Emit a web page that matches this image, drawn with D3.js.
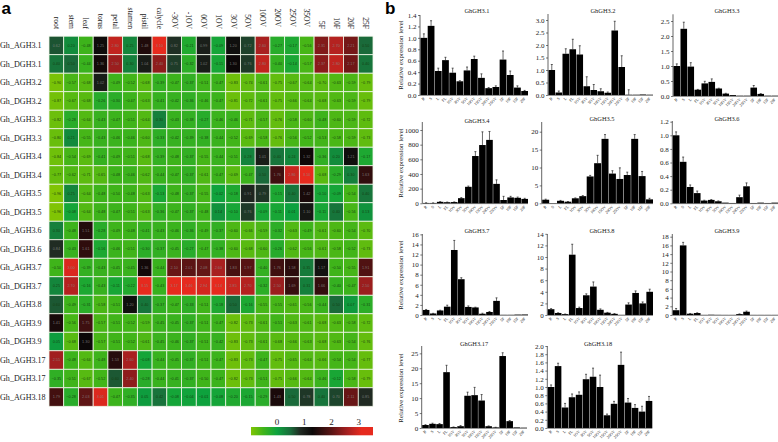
<!DOCTYPE html>
<html><head><meta charset="utf-8">
<script src="https://cdn.jsdelivr.net/npm/d3@7"></script>
<style>html,body{margin:0;padding:0;background:#fff}svg{display:block}text{font-family:"Liberation Serif",serif}</style>
</head><body><svg id="c" width="778" height="442"></svg>
<script>
const tissues=["root","stem","leaf","torus","petal","stamen","pistil","calycle","-3OV","-1OV","0OV","1OV","3OV","5OV","10OV","20OV","25OV","35OV","5F","10F","20F","25F"];
const genes=["Gh_AGH3.1","Gh_DGH3.1","Gh_AGH3.2","Gh_DGH3.2","Gh_AGH3.3","Gh_DGH3.3","Gh_AGH3.4","Gh_DGH3.4","Gh_AGH3.5","Gh_DGH3.5","Gh_AGH3.6","Gh_DGH3.6","Gh_AGH3.7","Gh_DGH3.7","Gh_AGH3.8","Gh_AGH3.9","Gh_DGH3.9","Gh_AGH3.17","Gh_DGH3.17","Gh_AGH3.18"];
const heat=[
[0.62,0.20,-0.48,1.25,2.80,0.25,1.48,3.10,0.82,-0.21,0.99,-0.09,1.20,0.72,2.60,-0.27,-0.17,-0.56,2.31,2.70,2.21,0.50],
[0.40,0.50,-0.44,1.36,2.50,0.30,1.04,2.40,0.75,-0.32,1.02,-0.11,1.30,0.76,2.80,-0.40,-0.14,-0.57,2.37,2.80,2.17,0.40],
[-0.90,-0.57,-0.68,1.02,-0.49,-0.52,-0.68,-0.39,-0.47,-0.37,-0.51,-0.47,-0.83,-0.74,-0.61,-0.75,-0.67,-0.64,-0.70,-0.63,-0.59,-0.79],
[-0.87,-0.67,-0.68,-0.26,-0.30,-0.47,-0.63,-0.41,-0.42,-0.36,-0.46,-0.47,-0.81,-0.72,-0.61,-0.75,-0.66,-0.64,-0.68,-0.63,-0.59,-0.79],
[-0.82,-0.28,-0.64,-0.43,-0.47,-0.51,-0.64,0.30,-0.43,-0.38,-0.27,-0.46,-0.46,-0.71,-0.57,-0.76,-0.58,-0.60,-0.48,-0.60,-0.59,-0.72],
[-0.80,0.21,-0.55,-0.43,-0.46,-0.46,-0.60,-0.33,-0.42,-0.39,-0.38,-0.44,-0.52,-0.69,-0.58,-0.76,-0.56,-0.52,-0.53,-0.58,-0.59,-0.73],
[-0.84,-0.54,-0.69,-0.41,-0.49,-0.51,-0.68,-0.39,-0.48,-0.37,-0.55,-0.44,-0.51,0.28,1.01,0.40,0.24,1.32,-0.36,0.20,1.21,-0.17],
[-0.77,-0.62,-0.71,-0.65,-0.48,-0.46,-0.62,-0.44,-0.47,-0.37,-0.61,-0.47,-0.69,-0.47,0.50,1.76,2.86,3.10,-0.68,-0.29,0.30,1.63],
[-0.96,0.25,-0.64,-0.48,-0.50,-0.48,-0.63,-0.13,-0.48,-0.37,-0.55,-0.02,-0.18,0.91,0.79,-0.15,0.40,1.42,-0.10,-0.09,-0.54,0.40],
[-0.96,-0.08,-0.64,-0.48,-0.47,-0.51,-0.63,-0.36,-0.47,-0.37,-0.48,0.14,-0.10,0.76,-0.09,-0.11,0.01,1.10,-0.11,0.40,-0.56,0.13],
[0.30,-0.48,1.51,-0.28,-0.49,-0.48,-0.41,-0.43,-0.46,-0.36,-0.49,-0.37,-0.60,-0.66,-0.59,-0.32,-0.63,-0.49,-0.61,-0.60,-0.54,-0.70],
[0.84,-0.43,1.61,-0.16,-0.46,-0.51,-0.30,-0.37,-0.45,-0.27,-0.47,-0.38,-0.60,-0.68,-0.60,-0.26,-0.62,-0.56,-0.61,-0.58,-0.52,-0.73],
[-0.50,3.00,-0.39,-0.43,-0.45,-0.45,1.36,-0.44,2.10,2.01,2.08,2.60,1.83,1.97,-0.40,1.76,1.58,0.35,1.17,-0.50,-0.55,1.91],
[0.25,2.70,-0.16,-0.43,-0.11,-0.22,3.15,-0.43,3.17,3.46,2.94,3.14,2.85,2.70,-0.32,2.50,1.69,0.31,1.66,-0.40,-0.47,2.50],
[0.60,-0.49,-0.31,-0.58,-0.51,1.20,0.40,-0.37,-0.47,-0.33,-0.51,-0.18,0.50,-0.16,-0.55,-0.55,-0.61,-0.56,-0.44,0.50,0.07,-0.31],
[1.41,-0.56,1.75,-0.57,-0.51,-0.52,-0.59,-0.45,-0.45,-0.37,-0.51,-0.47,-0.82,-0.73,-0.61,-0.51,-0.63,-0.61,-0.68,-0.63,-0.58,-0.72],
[0.05,-0.68,1.30,-0.57,-0.51,-0.52,-0.61,-0.45,-0.46,-0.37,-0.51,-0.42,-0.83,-0.73,-0.61,-0.68,-0.66,-0.63,-0.68,-0.63,-0.54,-0.76],
[2.55,-0.48,-0.64,-0.48,1.53,2.60,-0.08,-0.44,-0.45,-0.37,-0.51,-0.47,-0.83,-0.73,-0.47,-0.75,-0.65,-0.64,-0.66,-0.54,-0.54,-0.77],
[-0.35,-0.51,-0.67,-0.52,0.60,2.40,-0.28,-0.44,-0.41,-0.37,-0.50,-0.47,-0.82,-0.73,-0.51,-0.75,-0.66,-0.64,-0.46,-0.12,-0.58,-0.79],
[1.79,-0.28,2.03,3.01,-0.47,-0.35,0.05,0.42,-0.08,-0.04,-0.01,-0.08,-0.20,-0.15,-0.29,1.43,0.50,0.78,0.40,0.70,2.11,0.85]
];
const legendTicks=[0,1,2,3];
const colorStops=[-0.96,-0.5,0,0.5,0.85,1.3,2,2.6,3.1,3.52];
const colorValues=["#80c404","#3fb41a","#0da23e","#1a6a3a","#202a22","#0c0808","#5a1414","#a82020","#e62a1e","#e62a1e"];

const stages=["R","S","L","FL","1OV","3OV","5OV","10OV","15OV","20OV","25OV","5F","10F","15F","20F"];
const v31=[1.0,1.21,.42,.61,.39,.24,.43,.63,.30,.12,.14,.62,.35,.13,.07];
const e31=[.07,.09,.05,.05,.08,.01,.06,.05,.07,.01,.02,.15,.07,.03,.01];
const v32=[1.0,.1,1.65,1.83,1.62,.35,.2,.15,.09,2.58,1.12,.01,.01,.02,.01];
const e32=[.22,.06,.2,.4,.35,.38,.22,.1,.03,.37,.45,.2,0,0,0];
const v33=[1.0,2.24,.98,.21,.42,.47,.25,.08,.03,.01,.01,.28,.07,.01,.01];
const e33=[.07,.22,.13,.01,.07,.1,.01,.01,0,0,0,.07,.01,0,0];
const v34=[5,5,20,15,17,70,225,645,795,865,265,45,80,75,60];
const e34=[2,1,3,2,2,8,10,60,180,115,55,50,15,10,8];
const v35=[1.0,.05,.7,.45,1.4,2.0,7.5,11.2,18,8.3,6.8,7.9,18,7.6,1.1];
const e35=[.15,0,.1,.05,.1,.15,.3,2.2,1.2,.8,3.1,.8,1.2,1.3,.3];
const v36=[1.0,.61,.24,.15,.04,.05,.03,.01,.005,.09,.25,.005,.01,.005,.01];
const e36=[.05,.07,.03,.03,.005,.005,.005,0,0,.03,.05,0,0,0,0];
const v37=[1.0,.3,.9,1.65,12.9,7.1,1.6,1.5,.25,.6,2.8,.03,.03,.08,.1];
const e37=[.1,.03,.05,.3,1.9,.3,.2,.05,.1,.1,.6,0,0,0,0];
const v38=[1.0,.35,.15,10.4,1.2,3.4,4.9,.9,.4,.2,.02,1.8,3.8,2.0,4.0];
const e38=[.1,.03,.02,1.8,.15,.25,.8,.15,.05,.05,0,.3,.35,.25,.45];
const v39=[1.1,16,.3,.45,.02,.06,.03,.02,.02,.2,.75,.02,.02,.02,.02];
const e39=[.4,.7,.05,.05,0,0,0,0,0,.05,.15,0,0,0,0];
const v317=[1.0,1.4,1.3,18.7,.3,.6,10.8,11,9.2,.6,.2,24.1,2.3,.2,.1];
const e317=[.1,.2,.2,2.3,.05,.2,1.2,2.6,2,.1,.05,1.1,.2,0,0];
const v318=[1.0,1.51,.5,.75,.81,1.19,1.25,1.0,.31,.59,1.54,.62,.49,.4,.66];
const e318=[.05,.07,.1,.08,.07,.12,.21,.29,.03,.06,.31,.1,.08,.13,.11];

const svg=d3.select("#c");
const color=d3.scaleLinear().domain(colorStops).range(colorValues).clamp(true);
const x=d3.scaleBand().domain(tissues).range([49,373]);
const y=d3.scaleBand().domain(genes).range([36.2,406.3]);
svg.append("text").text("a").attr("x",1.5).attr("y",14).style("font-family","Liberation Sans").style("font-weight","bold").style("font-size","17px").attr("fill","#000");
svg.append("text").text("b").attr("x",385).attr("y",14).style("font-family","Liberation Sans").style("font-weight","bold").style("font-size","17px").attr("fill","#000");
const hm=svg.append("g");
genes.forEach((g,r)=>{
  tissues.forEach((t,c)=>{
    const val=heat[r][c];
    hm.append("rect").attr("x",x(t)).attr("y",y(g)).attr("width",x.bandwidth()).attr("height",y.bandwidth())
      .attr("fill",color(val)).attr("stroke","#f0f6e8").attr("stroke-width",0.8);
    hm.append("text").attr("x",x(t)+x.bandwidth()/2).attr("y",y(g)+y.bandwidth()/2+1.2)
      .attr("text-anchor","middle").style("font-family","Liberation Sans").style("font-size","3.8px")
      .attr("fill",val>0.6?"#8a8a8a":"#143c10").attr("fill-opacity",val>0.6?0.8:0.95)
      .text(val<0?"\u2212"+Math.abs(val).toFixed(2):val.toFixed(2));
  });
});
genes.forEach(g=>svg.append("text").text(g).attr("x",0).attr("y",y(g)+y.bandwidth()/2+2.8).style("font-size","8.1px").attr("fill","#222"));
tissues.forEach(t=>svg.append("text").text(t)
  .attr("transform",`translate(${x(t)+x.bandwidth()/2-2.5},${t.endsWith("OV")&&t.length>3&&t[0]!="-"?27:29}) rotate(90)`)
  .attr("text-anchor","end").style("font-size","7.6px").attr("fill","#222"));
// legend
const lx=d3.scaleLinear().domain([0,3]).range([277,358.7]);
const defs=svg.append("defs");
const grad=defs.append("linearGradient").attr("id","lg");
colorStops.forEach((s,i)=>grad.append("stop").attr("offset",(lx(s)-251)/122).attr("stop-color",colorValues[i]));
svg.append("rect").attr("x",251).attr("y",427).attr("width",122).attr("height",8.3).attr("fill","url(#lg)");
legendTicks.forEach(t=>svg.append("text").text(t).attr("x",lx(t)).attr("y",424.5).attr("text-anchor","middle").style("font-size","9px").attr("fill","#222"));

function bar(title,vals,errs,o){
  const g=svg.append("g");
  const xs=d3.scaleBand().domain(stages).range([o.ax+0.5,o.ax+o.w]).paddingInner(0.06);
  const ys=d3.scaleLinear().domain([0,o.top]).range([o.y0,o.y0-o.px*o.top]);
  const axis=d3.axisLeft(ys).tickValues(o.ticks).tickFormat(d3.format(o.fmt)).tickSize(2).tickPadding(1.5);
  stages.forEach((s,i)=>{
    const cx=xs(s)+xs.bandwidth()/2;
    if(errs[i]>0){
      g.append("line").attr("x1",cx).attr("x2",cx).attr("y1",ys(vals[i])).attr("y2",ys(vals[i]+errs[i])).attr("stroke","#444").attr("stroke-width",.8);
      g.append("line").attr("x1",cx-1).attr("x2",cx+1).attr("y1",ys(vals[i]+errs[i])).attr("y2",ys(vals[i]+errs[i])).attr("stroke","#222").attr("stroke-width",.7);
    }
    g.append("rect").attr("x",xs(s)).attr("y",ys(vals[i])).attr("width",xs.bandwidth()).attr("height",o.y0-ys(vals[i])).attr("fill","#000");
    g.append("text").text(s).attr("transform",`translate(${cx+1.2},${o.y0+3.8}) rotate(-45)`).attr("text-anchor","end").style("font-size","4px").attr("fill","#111");
  });
  const a=g.append("g").attr("transform",`translate(${o.ax},0)`).call(axis);
  a.selectAll("text").style("font-size","7px").attr("fill","#222").style("font-family","Liberation Serif");
  a.selectAll("line").attr("stroke","#222").attr("stroke-width",.6);
  a.select(".domain").remove();
  g.append("line").attr("x1",o.ax).attr("x2",o.ax).attr("y1",o.y0).attr("y2",o.axTop).attr("stroke","#222").attr("stroke-width",.7);
  g.append("line").attr("x1",o.ax).attr("x2",o.ax+o.w).attr("y1",o.y0+.3).attr("y2",o.y0+.3).attr("stroke","#222").attr("stroke-width",.6);
  g.append("text").text(title).attr("x",o.tx).attr("y",o.ty).attr("text-anchor","middle").style("font-size","6.4px").attr("fill","#222");
  if(o.yl) g.append("text").text("Relative expression level").attr("transform",`translate(403,${o.yl}) rotate(-90)`).attr("text-anchor","middle").style("font-size","6.9px").attr("fill","#222");
}
const rng=(a,b,s)=>d3.range(a,b+s/2,s);
bar("GhGH3.1",v31,e31,{ax:420,w:108,y0:95,top:1.4,px:80/1.4,axTop:15,ticks:rng(0,1.4,.2),fmt:".1f",tx:477,ty:13,yl:55});
bar("GhGH3.2",v32,e32,{ax:548,w:105,y0:95,top:3.2,px:25,axTop:14,ticks:rng(0,3,.5),fmt:".1f",tx:603,ty:13});
bar("GhGH3.3",v33,e33,{ax:673,w:105,y0:96,top:2.7,px:30,axTop:14.3,ticks:rng(0,2.5,.5),fmt:".1f",tx:727,ty:13});
bar("GhGH3.4",v34,e34,{ax:422.3,w:105.7,y0:203.3,top:1100,px:73.3/1000,axTop:122,ticks:rng(0,1000,200),fmt:"d",tx:477,ty:123,yl:163});
bar("GhGH3.5",v35,e35,{ax:541.7,w:111.3,y0:203.3,top:22,px:3.58,axTop:122,ticks:rng(0,20,5),fmt:"d",tx:602,ty:121});
bar("GhGH3.6",v36,e36,{ax:672.3,w:105.7,y0:203.3,top:1.2,px:68,axTop:121,ticks:rng(0,1.2,.2),fmt:".1f",tx:727,ty:121});
bar("GhGH3.7",v37,e37,{ax:422.3,w:105.7,y0:315,top:16,px:5.04,axTop:234,ticks:rng(0,16,2),fmt:"d",tx:477,ty:233,yl:275});
bar("GhGH3.8",v38,e38,{ax:547.3,w:105.7,y0:315,top:14,px:5.8,axTop:234,ticks:rng(0,14,2),fmt:"d",tx:602,ty:233});
bar("GhGH3.9",v39,e39,{ax:672.3,w:105.7,y0:315,top:18.6,px:4.35,axTop:234,ticks:rng(0,18,2),fmt:"d",tx:727,ty:233});
bar("GhGH3.17",v317,e317,{ax:421.7,w:105.3,y0:428,top:27,px:2.986,axTop:346,ticks:rng(0,25,5),fmt:"d",tx:474,ty:346,yl:388});
bar("GhGH3.18",v318,e318,{ax:547.3,w:105,y0:428,top:2,px:41,axTop:346,ticks:rng(0,2,.2),fmt:".1f",tx:598,ty:346});
</script></body></html>
